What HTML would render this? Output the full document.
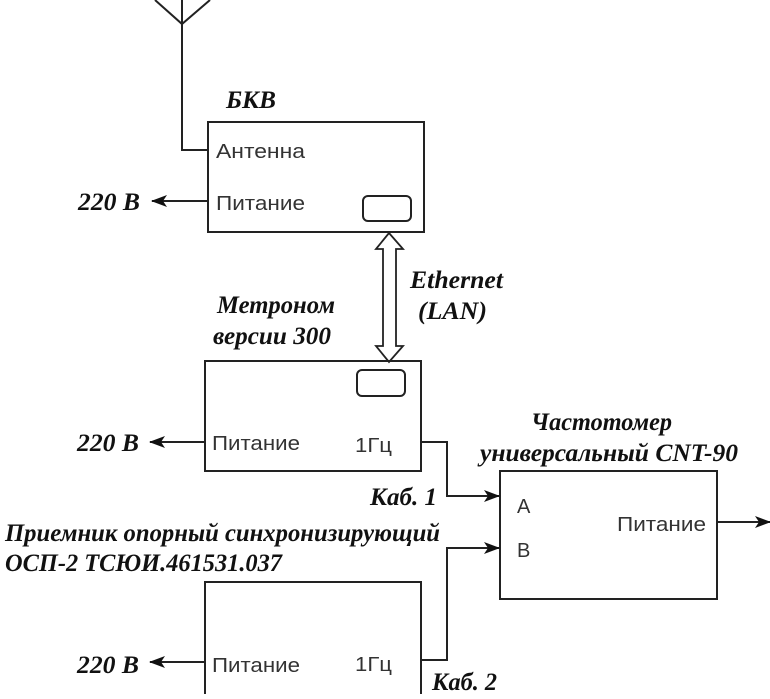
<!DOCTYPE html>
<html><head><meta charset="utf-8"><style>
body{margin:0;background:#fff}
svg text{font-family:"Liberation Serif",serif;font-style:italic;font-weight:bold;fill:#111}
svg text.s{font-family:"Liberation Sans",sans-serif;font-style:normal;font-weight:normal;fill:#333}
</style></head><body>
<svg width="770" height="694" viewBox="0 0 770 694" xmlns="http://www.w3.org/2000/svg">
<defs><marker id="a" markerWidth="16" markerHeight="12" refX="15" refY="6" orient="auto" markerUnits="userSpaceOnUse"><path d="M0,0 L16,6 L0,12 L4,6 Z" fill="#111"/></marker></defs>
<g fill="none" stroke="#222" stroke-width="2">
<path d="M155,0 L182,24 L210,0 M182,0 V150 H208"/>
<rect x="208" y="122" width="216" height="110"/>
<rect x="363" y="196" width="48" height="25" rx="5"/>
<rect x="205" y="361" width="216" height="110"/>
<rect x="357" y="370" width="48" height="26" rx="5"/>
<rect x="500" y="471" width="217" height="128"/>
<path d="M205,694 V582 H421 V694"/>
<path d="M389,233 L403,249 L396,249 L396,346 L403,346 L389,362 L376,346 L383,346 L383,249 L376,249 Z" stroke-width="1.8"/>
<path d="M208,201 H152" marker-end="url(#a)"/>
<path d="M205,442 H150" marker-end="url(#a)"/>
<path d="M205,662 H150" marker-end="url(#a)"/>
<path d="M421,442 H447 V496 H499" marker-end="url(#a)"/>
<path d="M421,660 H447 V548 H499" marker-end="url(#a)"/>
<path d="M717,522 H770" marker-end="url(#a)"/>
</g>
<g font-size="25">
<text x="226" y="108" textLength="50" lengthAdjust="spacingAndGlyphs">БКВ</text>
<text x="78" y="210" textLength="62" lengthAdjust="spacingAndGlyphs">220 В</text>
<text x="410" y="288" textLength="93" lengthAdjust="spacingAndGlyphs">Ethernet</text>
<text x="418" y="319" textLength="69" lengthAdjust="spacingAndGlyphs">(LAN)</text>
<text x="217" y="313" textLength="118" lengthAdjust="spacingAndGlyphs">Метроном</text>
<text x="213" y="344" textLength="118" lengthAdjust="spacingAndGlyphs">версии 300</text>
<text x="77" y="451" textLength="62" lengthAdjust="spacingAndGlyphs">220 В</text>
<text x="531" y="430" textLength="141" lengthAdjust="spacingAndGlyphs">Частотомер</text>
<text x="480" y="461" textLength="258" lengthAdjust="spacingAndGlyphs">универсальный CNT-90</text>
<text x="370" y="505" textLength="67" lengthAdjust="spacingAndGlyphs">Каб. 1</text>
<text x="5" y="541" textLength="435" lengthAdjust="spacingAndGlyphs">Приемник опорный синхронизирующий</text>
<text x="5" y="571" textLength="277" lengthAdjust="spacingAndGlyphs">ОСП-2 ТСЮИ.461531.037</text>
<text x="77" y="673" textLength="62" lengthAdjust="spacingAndGlyphs">220 В</text>
<text x="432" y="690" textLength="65" lengthAdjust="spacingAndGlyphs">Каб. 2</text>
</g>
<g font-size="20">
<text class="s" x="216" y="158" textLength="89" lengthAdjust="spacingAndGlyphs">Антенна</text>
<text class="s" x="216" y="210" textLength="89" lengthAdjust="spacingAndGlyphs">Питание</text>
<text class="s" x="212" y="450" textLength="88" lengthAdjust="spacingAndGlyphs">Питание</text>
<text class="s" x="355" y="452" textLength="37" lengthAdjust="spacingAndGlyphs">1Гц</text>
<text class="s" x="517" y="513">A</text>
<text class="s" x="517" y="557">B</text>
<text class="s" x="617" y="531" textLength="89" lengthAdjust="spacingAndGlyphs">Питание</text>
<text class="s" x="212" y="672" textLength="88" lengthAdjust="spacingAndGlyphs">Питание</text>
<text class="s" x="355" y="671" textLength="37" lengthAdjust="spacingAndGlyphs">1Гц</text>
</g>
</svg>
</body></html>
